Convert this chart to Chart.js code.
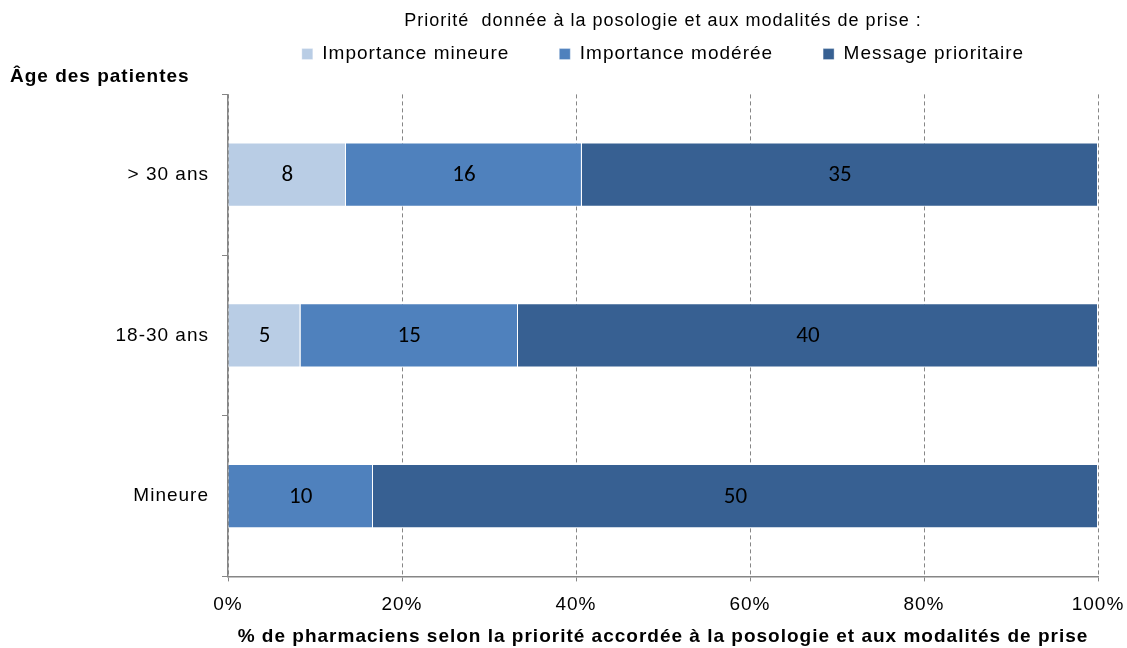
<!DOCTYPE html>
<html><head><meta charset="utf-8">
<script src="https://cdn.jsdelivr.net/npm/chart.js@4"></script>
<style>html,body{margin:0;padding:0;background:#fff}#wrap{width:1127px;height:648px}</style>
</head><body><div id="wrap"><canvas id="c" width="1127" height="648"></canvas></div>
<script>
const categories = ["> 30 ans", "18-30 ans", "Mineure"];
const seriesNames = ["Importance mineure", "Importance modérée", "Message prioritaire"];
const mineure = [8, 5, 0];
const moderee = [16, 15, 10];
const prioritaire = [35, 40, 50];
const xTicks = ["0%", "20%", "40%", "60%", "80%", "100%"];
const colors = ["#B9CDE5", "#4F81BD", "#376092"];

const counts = [mineure, moderee, prioritaire];
const totals = categories.map((_, i) => mineure[i] + moderee[i] + prioritaire[i]);
const pct = counts.map(arr => arr.map((v, i) => v / totals[i] * 100));

const FONT = '"Liberation Sans", Arial, sans-serif';

const spacingPlugin = {
  id: 'spacing',
  beforeUpdate(chart) { chart.ctx.letterSpacing = '1px'; },
  beforeDraw(chart) { chart.ctx.letterSpacing = '1px'; }
};

const labelPlugin = {
  id: 'labels',
  afterDatasetsDraw(chart) {
    const ctx = chart.ctx;
    ctx.save();
    ctx.letterSpacing = '0px';
    ctx.font = '23px Carlito, Lato, sans-serif';
    ctx.fillStyle = '#000';
    ctx.textAlign = 'center';
    ctx.textBaseline = 'middle';
    chart.data.datasets.forEach((ds, di) => {
      const meta = chart.getDatasetMeta(di);
      meta.data.forEach((el, i) => {
        const v = counts[di][i];
        if (!v) return;
        const cx = (el.x + el.base) / 2;
        ctx.fillText(String(v), cx, el.y + 1);
      });
    });
    ctx.restore();
  }
};

new Chart(document.getElementById('c'), {
  type: 'bar',
  data: {
    labels: categories,
    datasets: seriesNames.map((n, k) => ({
      label: n,
      data: pct[k],
      backgroundColor: colors[k],
      borderColor: 'rgba(255,255,255,0.35)',
      borderWidth: 1,
      categoryPercentage: 0.4,
      barPercentage: 1
    }))
  },
  options: {
    indexAxis: 'y',
    responsive: false,
    animation: false,
    layout: { padding: { top: 4, right: 29, bottom: 0, left: 10 } },
    plugins: {
      tooltip: { enabled: false },
      title: {
        display: true,
        text: 'Âge des patientes',
        position: 'top',
        align: 'start',
        weight: 500,
        color: '#000',
        font: { family: FONT, size: 19, weight: 'bold' },
        padding: { top: -8, bottom: 6 }
      },
      legend: {
        position: 'top',
        align: 'center',
        fullSize: false,
        title: {
          display: true,
          text: 'Priorité  donnée à la posologie et aux modalités de prise :',
          color: '#000',
          font: { family: FONT, size: 18 },
          padding: { top: 8, bottom: -39 }
        },
        labels: {
          boxWidth: 11, boxHeight: 11,
          padding: 50,
          color: '#000',
          font: { family: FONT, size: 19 }
        }
      }
    },
    scales: {
      x: {
        stacked: true,
        min: 0, max: 100,
        afterFit(scale) { scale.paddingRight = 0; },
        ticks: {
          stepSize: 20,
          color: '#000',
          padding: 12,
          font: { family: FONT, size: 19 },
          callback: (v, i) => xTicks[i]
        },
        grid: {
          color: '#868686',
          tickLength: 5,
          tickColor: '#868686',
          tickBorderDash: [],
          drawOnChartArea: true
        },
        border: { color: '#868686', width: 1.5, dash: [4, 3] },
        title: {
          display: true,
          text: '% de pharmaciens selon la priorité accordée à la posologie et aux modalités de prise',
          color: '#000',
          font: { family: FONT, size: 19, weight: 'bold' },
          padding: { top: -3, bottom: 0 }
        }
      },
      y: {
        stacked: true,
        afterFit(scale) { scale.width = 218; },
        ticks: {
          color: '#000',
          padding: 13,
          font: { family: FONT, size: 19 }
        },
        grid: {
          offset: true,
          drawOnChartArea: false,
          drawTicks: true,
          tickLength: 6,
          color: '#868686'
        },
        border: { color: '#868686', width: 1.5 }
      }
    }
  },
  plugins: [spacingPlugin, labelPlugin]
});
</script></body></html>
